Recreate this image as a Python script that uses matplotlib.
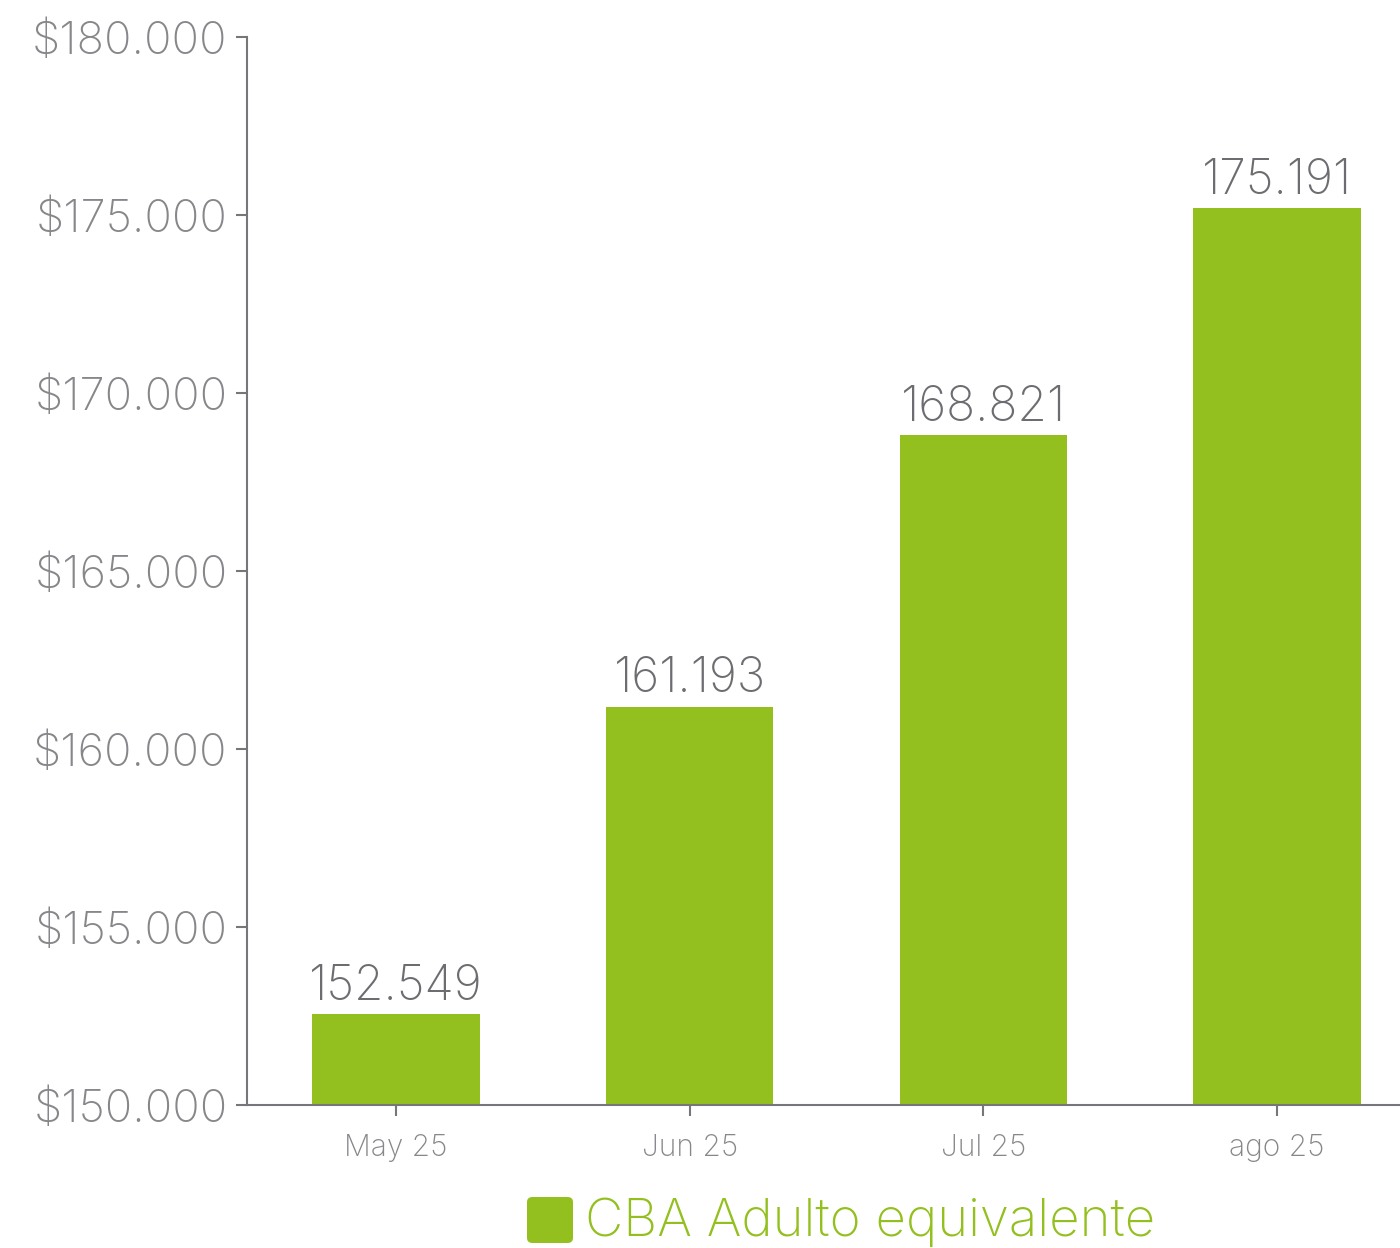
import matplotlib
matplotlib.use("Agg")
import matplotlib.pyplot as plt
from matplotlib.patches import FancyBboxPatch
from matplotlib.ticker import FuncFormatter

categories = ["May 25", "Jun 25", "Jul 25", "ago 25"]
values = [152549, 161193, 168821, 175191]
value_labels = ["152.549", "161.193", "168.821", "175.191"]
series_name = "CBA Adulto equivalente"

GREEN = "#93C01F"
GRAY = "#87878b"
DARK = "#6c6c71"
FONT = ["Inter", "DejaVu Sans"]
W = "light"

plt.rcParams['font.family'] = FONT

fig = plt.figure(figsize=(14, 12.48), dpi=100)
ax = fig.add_axes([247/1400, (1248-1105)/1248, 1 - 247/1400, (1105-37)/1248])

x = list(range(len(categories)))
ax.bar(x, values, width=0.57, color=GREEN, zorder=2)
for xi, v, lab in zip(x, values, value_labels):
    ax.annotate(lab, (xi, v), xytext=(0, 3), textcoords="offset points",
                ha="center", va="bottom", fontsize=34.5, color=DARK, fontweight=W)

ax.set_ylim(150000, 180000)
ax.set_xlim(-0.507, 3.419)
ax.set_yticks(range(150000, 180001, 5000))
ax.yaxis.set_major_formatter(FuncFormatter(lambda v, p: "$" + f"{int(v):,}".replace(",", ".")))
ax.set_xticks(x)
ax.set_xticklabels(categories)

for s in ["top", "right"]:
    ax.spines[s].set_visible(False)
for s in ["left", "bottom"]:
    ax.spines[s].set_color("#77777b")
    ax.spines[s].set_linewidth(1.5)

ax.tick_params(axis="y", labelsize=32.7, labelcolor=GRAY, color="#77777b", length=8, width=1.5, pad=6)
ax.tick_params(axis="x", labelsize=21.5, labelcolor=GRAY, color="#77777b", length=8, width=1.5, pad=13)
for t in ax.get_yticklabels() + ax.get_xticklabels():
    t.set_fontweight(W)

# legend
lx, ly = 527/1400, (1248-1243)/1248
patch = FancyBboxPatch((lx, ly), 46/1400, 46/1248, boxstyle="round,pad=0,rounding_size=0.004",
                       transform=fig.transFigure, facecolor=GREEN, edgecolor="none")
fig.patches.append(patch)
fig.text(585/1400, (1248-1222)/1248, series_name, ha="left", va="center",
         fontsize=38, color=GREEN, fontweight=W)

fig.savefig("out.png", dpi=100, facecolor="white")
